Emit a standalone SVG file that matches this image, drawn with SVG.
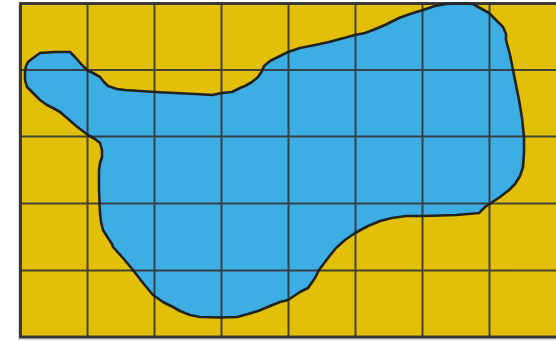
<svg xmlns="http://www.w3.org/2000/svg" width="556" height="341" viewBox="0 0 556 341">
<style>
.grid{stroke:#353535;stroke-width:2;fill:none;opacity:0.9}
.frame{stroke:#333;stroke-width:2.5;fill:#e2bf08}
.blob{fill:#3daee4;stroke:none}
.outline{fill:none;stroke:#222;stroke-width:2.6;stroke-linejoin:round}
</style>
<defs>
<path id="shape" d="M40,53 L55,52 L70,52 L75,57 L82,65 L87,70 L93,73 L100,77 L104,82 L108,86 L117,89 L125,90 L140,91 L155,92 L175,93 L195,94 L212,95 L222,93 L232,92 L240,88 L245,86 L252,82 L258,77 L262,71 L264,66 L270,61 L276,58 L282,55 L288,52 L300,48 L315,45 L329,42 L340,39 L355,35 L365,33 L373,30 L385,25 L399,18 L410,14 L423,10 L435,6 L446,4 L460,3.5 L473,4 L480,8 L489,13 L496,20 L503,27 L506,34 L506,40 L510,55 L513,70 L516,85 L519,100 L522,118 L524,137 L524,152 L523,167 L520,176 L515,184 L509,190 L500,197 L491,203 L485,207 L479,213 L468,214 L456,215 L440,215.5 L423,216 L406,216 L392,218 L380,221 L368,226 L355,233 L345,240 L336,248 L328,258 L319,270 L315,278 L308,288 L300,292 L288,300 L280,302 L270,306 L258,311 L248,314 L237,317 L220,317.5 L200,317 L190,315 L180,311 L173,307 L163,302 L153,295 L143,283 L133,270 L123,258 L113,247 L112,244 L108,238 L103,230 L101,222 L100,213 L99,190 L99,170 L100,163 L102,157 L102,150 L100,143 L95,139 L88,135 L80,129 L75,125 L67,118 L60,112 L53,108 L47,105 L40,100 L33,93 L27,87 L25,80 L25,72 L26,66 L28,62 L33,58 Z"/>
</defs>
<rect x="18" y="5" width="545" height="335" fill="#d8d8d8"/>
<g id="map">
<rect class="frame" x="20.5" y="3.5" width="545" height="333.5"/>
<use id="lake" href="#shape" class="blob"/>
<g id="grid" class="grid">
<line x1="87.5" y1="3.5" x2="87.5" y2="337"/>
<line x1="154.5" y1="3.5" x2="154.5" y2="337"/>
<line x1="221.5" y1="3.5" x2="221.5" y2="337"/>
<line x1="288.5" y1="3.5" x2="288.5" y2="337"/>
<line x1="355.5" y1="3.5" x2="355.5" y2="337"/>
<line x1="422.5" y1="3.5" x2="422.5" y2="337"/>
<line x1="489.5" y1="3.5" x2="489.5" y2="337"/>
<line x1="20.5" y1="70" x2="556" y2="70"/>
<line x1="20.5" y1="136.5" x2="556" y2="136.5"/>
<line x1="20.5" y1="203.5" x2="556" y2="203.5"/>
<line x1="20.5" y1="270.5" x2="556" y2="270.5"/>
</g>
<rect x="20.5" y="3.5" width="545" height="333.5" fill="none" stroke="#333" stroke-width="2.5"/>
<use id="shore" href="#shape" class="outline"/>
</g>
</svg>
